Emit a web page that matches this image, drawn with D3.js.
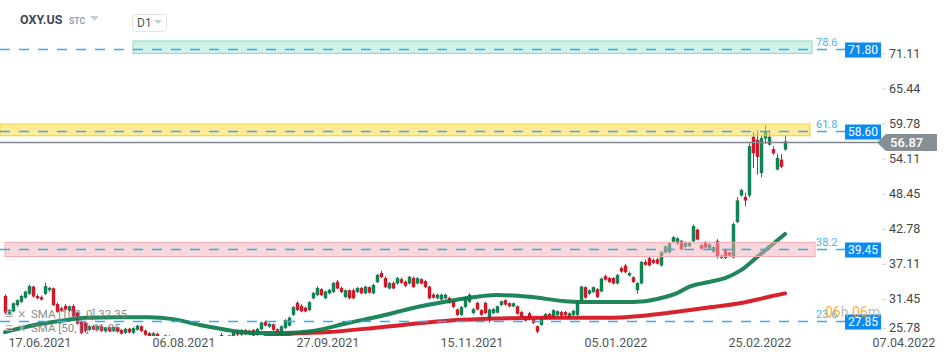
<!DOCTYPE html>
<html><head><meta charset="utf-8">
<script src="https://cdn.jsdelivr.net/npm/d3@7"></script>
<style>html,body{margin:0;padding:0;background:#fff;}svg{display:block;font-family:Roboto,"Noto Sans",sans-serif;}</style>
</head><body>
<svg id="c" width="950" height="360"></svg>
<script>
// ---- data ----
const opens = [
31.9,29.1,29.5,30.5,31.0,31.7,32.3,33.4,31.9,31.7,
32.3,32.9,33.1,30.6,29.9,30.3,29.6,30.3,29.2,27.8,
27.6,26.5,27.0,26.5,27.0,26.3,26.8,26.3,26.8,26.4,
26.0,26.6,26.0,26.5,27.0,26.3,25.9,25.3,25.8,25.2,
24.9,25.4,24.7,24.1,24.6,23.8,23.1,23.6,22.6,22.1,
23.0,24.1,23.6,24.6,25.6,25.2,24.7,25.4,26.2,25.7,
26.4,25.9,26.4,25.7,26.6,27.7,27.0,27.3,26.5,25.9,
26.8,27.2,28.9,30.8,30.3,30.0,29.7,31.6,32.1,33.0,
31.6,32.4,32.6,34.2,33.2,31.8,32.8,32.8,32.6,33.2,
32.4,33.3,32.4,34.2,35.6,34.8,33.2,34.0,34.0,34.6,
34.2,34.0,34.8,34.0,34.6,34.3,33.4,32.1,31.6,31.4,
31.6,31.6,31.0,29.7,28.9,30.2,31.0,29.2,30.8,29.6,
30.8,28.1,29.2,29.3,30.5,31.2,30.7,30.3,30.2,29.3,
28.6,29.1,28.1,27.0,27.3,28.3,29.0,28.5,28.9,29.3,
29.3,28.5,28.9,28.9,31.2,33.3,32.3,32.6,33.0,32.7,
35.1,34.8,34.8,34.0,36.4,36.8,35.3,34.9,32.9,34.0,
37.4,38.0,37.7,37.8,36.9,39.0,39.0,40.7,40.4,40.8,
39.9,40.0,40.8,42.6,40.1,40.6,39.6,39.1,40.8,38.4,
39.4,38.9,38.2,43.9,48.2,47.9,48.2,57.6,57.1,51.8,
57.4,56.4,55.6,52.4,53.9,55.6];
const highs = [
32.2,29.8,30.9,31.4,32.1,32.8,33.8,33.6,32.2,32.0,
34.1,33.4,33.3,30.9,30.2,30.6,30.4,30.6,29.4,28.0,
27.9,27.2,27.3,27.2,27.2,26.9,27.0,27.0,27.0,26.6,
26.8,26.8,26.9,27.3,27.2,26.5,26.1,26.1,26.0,25.4,
25.7,25.6,24.9,24.8,24.8,24.0,23.8,23.8,22.8,23.2,
24.3,24.3,24.8,25.5,26.0,25.4,25.7,26.4,26.5,26.6,
26.6,26.5,26.6,26.8,27.8,28.0,27.6,27.5,26.7,27.2,
28.2,28.6,30.3,31.1,30.6,30.2,31.1,32.6,33.5,33.2,
32.8,33.1,34.2,34.5,33.4,33.0,33.0,33.1,33.4,33.4,
33.6,33.5,33.9,35.5,36.0,35.1,34.2,34.3,35.0,34.9,
34.4,35.2,35.1,35.0,34.8,34.5,33.6,32.4,32.3,32.3,
32.3,31.8,31.2,29.9,30.3,31.9,32.4,30.0,31.0,29.8,
31.0,29.9,30.0,30.4,31.2,31.4,30.9,30.9,30.4,29.5,
28.8,29.4,28.3,27.2,28.5,29.2,29.2,29.8,29.6,29.5,
29.5,29.3,29.7,31.1,33.6,33.5,33.0,33.5,33.2,34.9,
35.4,35.0,35.0,35.5,36.7,37.1,35.9,35.1,34.2,37.6,
37.8,38.3,38.0,38.1,39.2,40.1,40.6,41.6,41.4,41.0,
40.7,40.7,43.5,42.8,40.3,40.8,40.4,40.0,41.1,38.6,
39.6,39.1,43.8,47.9,49.2,48.6,56.6,58.4,58.7,57.8,
59.4,58.7,56.1,54.9,54.8,57.9];
const lows = [
29.0,28.8,29.3,30.2,30.8,31.5,32.1,31.7,31.4,31.2,
32.1,32.6,30.3,29.2,29.4,29.6,29.4,28.5,27.3,25.8,
26.0,26.3,26.4,26.3,26.1,26.0,26.1,26.1,26.0,25.7,
25.8,25.9,25.8,26.3,26.1,25.5,25.1,25.1,25.0,24.6,
24.7,24.5,23.8,23.9,23.6,22.8,22.9,22.3,21.8,21.9,
22.8,23.5,23.4,24.4,24.9,24.4,24.5,25.2,25.5,25.5,
25.7,25.7,25.4,25.5,26.4,27.0,26.8,26.3,25.7,25.7,
26.6,27.0,28.7,29.5,29.3,29.3,29.5,31.4,31.9,31.9,
31.4,32.2,32.4,33.0,32.4,31.6,31.4,31.4,32.4,32.2,
32.2,32.3,32.2,34.0,34.8,33.2,33.0,33.0,33.8,33.9,
33.4,33.8,33.2,33.8,33.8,33.2,31.4,31.5,31.4,31.2,
31.4,30.7,30.0,28.7,28.7,30.0,30.8,29.0,29.6,28.7,
29.0,27.6,29.0,29.1,30.3,30.4,30.1,30.1,28.9,28.3,
27.8,28.0,27.4,25.9,27.1,28.1,28.3,28.3,28.7,28.6,
28.7,28.3,28.7,28.7,31.0,31.5,32.1,32.4,31.6,32.5,
34.4,34.0,33.8,33.8,35.7,35.6,35.1,34.0,32.3,33.8,
36.8,36.7,37.1,37.0,36.7,38.8,38.8,40.5,40.2,39.3,
39.7,39.8,40.6,40.9,39.4,39.6,39.4,38.9,38.0,37.9,
37.9,38.3,38.0,43.7,48.0,46.4,47.8,52.6,51.5,51.1,
56.5,56.2,54.7,52.2,52.6,55.4];
const closes = [
29.3,29.6,30.7,31.2,31.9,32.6,33.5,31.9,31.6,31.4,
33.5,33.2,30.5,29.4,29.6,29.8,30.2,28.7,27.5,26.0,
26.4,27.0,26.6,27.0,26.3,26.8,26.3,26.9,26.2,25.9,
26.6,26.1,26.7,27.1,26.3,25.7,25.3,25.9,25.2,24.8,
25.5,24.7,24.0,24.6,23.8,23.0,23.6,22.5,22.0,23.0,
24.1,23.7,24.6,25.3,25.1,24.6,25.5,26.2,25.7,26.4,
25.9,26.3,25.6,26.6,27.6,27.2,27.4,26.5,25.9,27.0,
28.0,28.4,30.1,29.7,29.5,29.5,30.9,32.4,33.2,32.1,
32.6,32.9,34.0,33.2,32.6,32.8,31.6,31.6,33.2,32.4,
33.4,32.5,33.7,35.3,35.0,33.4,34.0,33.2,34.8,34.1,
33.6,35.0,33.4,34.8,34.0,33.4,31.6,31.7,32.1,32.1,
32.1,30.9,30.2,28.9,30.1,31.7,32.1,29.8,29.8,28.9,
29.2,29.7,29.8,30.2,31.0,30.6,30.3,30.7,29.1,28.5,
28.0,28.4,27.6,26.2,28.3,29.0,28.5,29.6,29.4,28.8,
28.9,29.1,29.5,30.9,33.4,31.7,32.8,33.3,31.8,34.7,
34.6,34.2,34.0,35.3,35.9,35.8,35.6,34.2,34.0,37.4,
37.0,36.9,37.3,37.2,39.0,39.9,40.4,41.4,41.2,39.5,
40.5,40.5,43.2,41.1,39.6,39.8,40.2,39.8,38.3,38.1,
38.1,38.5,43.5,47.3,49.0,47.4,56.1,55.0,54.4,57.4,
58.4,57.6,55.0,54.2,52.8,56.87];

const sma50Idx = [0,7,15,20,28,36,42,49,57,62,70,77,86,94,102,110,119,123,131,140,146,154,160,164,168,171,176,180,184,188,191,195];
const sma50Val = [26.1,27.2,28.0,28.4,28.5,28.5,28.2,27.2,26.3,25.95,25.95,26.3,27.6,28.7,30.0,31.0,31.9,32.1,31.8,31.1,30.95,30.95,31.1,31.6,32.4,33.4,34.2,34.8,36.1,38.2,39.8,41.95];
const sma100Idx = [65,71,81,94,110,119,135,150,159,167,175,184,191,195];
const sma100Val = [25.3,25.8,26.1,26.9,27.9,28.2,28.4,28.4,28.7,29.3,30.0,30.8,31.8,32.35];

const priceTicks = [71.11,65.44,59.78,54.11,48.45,42.78,37.11,31.45,25.78];
const dateTickIdx = [8,44,80,116,152,188,224];
const dateTickLabels = ["17.06.2021","06.08.2021","27.09.2021","15.11.2021","05.01.2022","25.02.2022","07.04.2022"];

const levelValues = [71.80,58.60,39.45,27.85];
const levelRatios = ["78.6","61.8","38.2","23.6"];
const bandLow  = [71.1,57.8,38.3];
const bandHigh = [73.1,59.7,40.6];
const bandStart = [32,-1.25,0];
const bandEnd   = [201.75,201.25,202.5];
const bandFill  = ["rgb(160,232,210)","rgb(252,215,50)","rgb(242,178,184)"];
const bandStroke= ["#86dcc2","#f4cf2a","#f0aab0"];

const lastPrice = closes[closes.length-1];
const legendItems = ["SMA [100, 0] 32.35","SMA [50, 0] 41.95"];

// ---- scales ----
const svg = d3.select("#c");
const x = d3.scaleLinear().domain([-1.25,218.75]).range([0,880]);
const y = d3.scaleLinear().domain([25.78,71.11]).range([334.1,53.3]);

svg.append("defs").append("clipPath").attr("id","plot")
  .append("rect").attr("x",0).attr("y",0).attr("width",880).attr("height",336);

const plot = svg.append("g").attr("clip-path","url(#plot)");

// candles
const GREEN="#0f8955", GREEN_D="#0a6a42", RED="#d8182b", RED_D="#b3101f";
const idx = d3.range(closes.length);
const cg = plot.append("g");
cg.selectAll("line.w").data(idx).join("line")
  .attr("x1",i=>Math.round(x(i))+0.5).attr("x2",i=>Math.round(x(i))+0.5)
  .attr("y1",i=>y(highs[i])).attr("y2",i=>y(lows[i]))
  .attr("stroke",i=>closes[i]>=opens[i]?GREEN:RED).attr("stroke-width",1);
cg.selectAll("rect.b").data(idx).join("rect")
  .attr("x",i=>Math.round(x(i))-1).attr("width",3)
  .attr("y",i=>y(Math.max(opens[i],closes[i])))
  .attr("height",i=>Math.max(1,Math.abs(y(opens[i])-y(closes[i]))))
  .attr("fill",i=>closes[i]>=opens[i]?GREEN:RED)
  .attr("stroke",i=>closes[i]>=opens[i]?GREEN_D:RED_D).attr("stroke-width",0.4);

// SMA lines
const ln = d3.line().curve(d3.curveMonotoneX);
plot.append("path")
  .attr("d",ln(sma100Idx.map((d,k)=>[x(d),y(sma100Val[k])])))
  .attr("fill","none").attr("stroke","#d50f1c").attr("stroke-width",4).attr("stroke-opacity",0.92).attr("stroke-linecap","round");
plot.append("path")
  .attr("d",ln(sma50Idx.map((d,k)=>[x(d),y(sma50Val[k])])))
  .attr("fill","none").attr("stroke","#0b7c4c").attr("stroke-width",4).attr("stroke-opacity",0.92).attr("stroke-linecap","round");

// bands
bandLow.forEach((lo,k)=>{
  plot.append("rect")
    .attr("x",x(bandStart[k])).attr("width",x(bandEnd[k])-x(bandStart[k]))
    .attr("y",y(bandHigh[k])).attr("height",y(lo)-y(bandHigh[k]))
    .attr("fill",bandFill[k]).attr("fill-opacity",0.5)
    .attr("stroke",bandStroke[k]).attr("stroke-width",1);
});

// level lines
levelValues.forEach((v,k)=>{
  const ly = Math.round(y(v))+0.5;
  svg.append("line").attr("x1",0).attr("x2",846).attr("y1",ly).attr("y2",ly)
    .style("stroke","#3aa9f2").style("stroke-width","1.3px").style("stroke-dasharray","10,9");
  svg.append("text").attr("x",816).attr("y",ly-4).text(levelRatios[k])
    .attr("font-size",11).attr("fill","#45b3ee");
  svg.append("rect").attr("x",845).attr("y",ly-7).attr("width",36).attr("height",15).attr("fill","#0a8af2");
  svg.append("text").attr("x",863).attr("y",ly+0.5).attr("dy","0.35em").attr("text-anchor","middle")
    .text(v.toFixed(2)).attr("font-size",12).attr("fill","#fff");
});

// current price line
const py = Math.round(y(lastPrice))+0.5;
svg.append("line").attr("x1",0).attr("x2",878).attr("y1",py).attr("y2",py)
  .attr("stroke","#7d878c").attr("stroke-width",1.5);
svg.append("path").attr("d",`M877,${py} L886,${py-8.5} L937,${py-8.5} L937,${py+8.5} L886,${py+8.5} Z`).attr("fill","#868f94");
svg.append("text").attr("x",890).attr("y",py).attr("dy","0.35em").text(lastPrice.toFixed(2))
  .attr("font-size",13).attr("font-weight",500).attr("fill","#fff");

// price axis
priceTicks.forEach(v=>{
  const ty = Math.min(y(v),328);
  svg.append("line").attr("x1",882).attr("x2",886).attr("y1",ty+0.5).attr("y2",ty+0.5).attr("stroke","#d5d5d5");
  svg.append("text").attr("x",889).attr("y",ty).attr("dy","0.35em").text(v.toFixed(2))
    .attr("font-size",12.5).attr("fill","#454545");
});

// date axis
dateTickIdx.forEach((d,k)=>{
  svg.append("text").attr("x",Math.min(x(d)+3,904)).attr("y",347).attr("text-anchor","middle")
    .text(dateTickLabels[k]).attr("font-size",12.5).attr("fill","#555");
});

// countdown
const cd = svg.append("text").attr("x",825).attr("y",317).attr("font-size",14).attr("opacity",0.85);
cd.append("tspan").text("06").attr("fill","#f5a41c");
cd.append("tspan").text("h ").attr("fill","#b0b0b0");
cd.append("tspan").text("06").attr("fill","#f5a41c");
cd.append("tspan").text("m").attr("fill","#b0b0b0");

// legend
legendItems.forEach((t,k)=>{
  const ly = 314+k*14;
  svg.append("text").attr("x",5).attr("y",ly).attr("dy","0.35em").text("\u2261").attr("font-size",14).attr("fill","#a9a9a9");
  svg.append("text").attr("x",18).attr("y",ly).attr("dy","0.35em").text("\u00d7").attr("font-size",14).attr("fill","#a9a9a9");
  svg.append("text").attr("x",31).attr("y",ly).attr("dy","0.35em").text(t)
    .attr("font-size",11.5).attr("fill","#808080").attr("opacity",0.9);
});

// header
svg.append("text").attr("x",20).attr("y",24).text("OXY.US").attr("font-size",12.5).attr("font-weight",700).attr("fill","#3b4a58");
svg.append("text").attr("x",69).attr("y",24).text("STC").attr("font-size",8.5).attr("font-weight",700).attr("fill","#8ea2b6");
svg.append("path").attr("d","M90,16 L99,16 L94.5,21 Z").attr("fill","#c9ced3");
svg.append("rect").attr("x",132.5).attr("y",14.5).attr("width",34).attr("height",17).attr("rx",3)
  .attr("fill","#fff").attr("stroke","#e2e2e2");
svg.append("text").attr("x",137).attr("y",27).text("D1").attr("font-size",12).attr("fill","#555");
svg.append("path").attr("d","M154,20 L162,20 L158,24 Z").attr("fill","#c9ced3");
</script>
</body></html>
